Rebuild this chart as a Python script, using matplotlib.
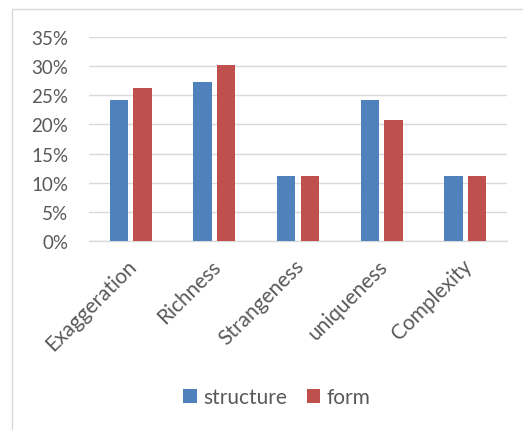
import matplotlib
matplotlib.use("Agg")
import matplotlib.pyplot as plt
from matplotlib.patches import Rectangle
from matplotlib.ticker import PercentFormatter
from matplotlib.transforms import ScaledTranslation
import numpy as np

categories = ["Exaggeration", "Richness", "Strangeness", "uniqueness", "Complexity"]
structure = [24.2, 27.2, 11.2, 24.2, 11.2]
form = [26.2, 30.2, 11.2, 20.7, 11.2]
series_names = ["structure", "form"]
yticks = [0, 5, 10, 15, 20, 25, 30, 35]

blue = "#4F81BD"
red = "#C0504D"
text_col = "#595959"
grid_col = "#D9D9D9"

plt.rcParams["font.family"] = ["Lato", "DejaVu Sans"]

W, H = 523, 431
fig = plt.figure(figsize=(W / 100, H / 100), dpi=100)

# chart-area frame
fig.patches.append(Rectangle((12 / W, -0.1), 1.2, (H - 10) / H + 0.1,
                             transform=fig.transFigure, fill=False,
                             edgecolor="#D9D9D9", linewidth=1.0))

ax = fig.add_axes([89 / W, 1 - 242 / H, (507 - 89) / W, (242 - 38) / H])
x = np.arange(len(categories))
bw = 0.22
off = 0.142
ax.bar(x - off, structure, bw, color=blue, label=series_names[0], zorder=3)
ax.bar(x + off, form, bw, color=red, label=series_names[1], zorder=3)

ax.set_xlim(-0.5, len(categories) - 0.5)
ax.set_ylim(0, 35)
ax.set_yticks(yticks)
ax.yaxis.set_major_formatter(PercentFormatter(decimals=0))
ax.grid(axis="y", color=grid_col, linewidth=1.0, zorder=0)
for s in ["top", "right", "left"]:
    ax.spines[s].set_visible(False)
ax.spines["bottom"].set_color(grid_col)
ax.spines["bottom"].set_linewidth(1.0)
ax.tick_params(axis="y", length=0, pad=15, labelsize=13.5, labelcolor=text_col)
ax.tick_params(axis="x", length=0, pad=9, labelsize=15, labelcolor=text_col)
ax.set_xticks(x)
ax.set_xticklabels(categories, rotation=45, ha="right", rotation_mode="anchor")
shift = ScaledTranslation(-4 / 100, -2 / 100, fig.dpi_scale_trans)
for lbl in ax.get_xticklabels():
    lbl.set_transform(lbl.get_transform() + shift)

fig.legend(loc="center", bbox_to_anchor=(277 / W, 1 - 398 / H), ncol=2,
           frameon=False, fontsize=15, labelcolor=text_col,
           handlelength=0.65, handleheight=0.65, handletextpad=0.3,
           columnspacing=0.95)

fig.savefig("out.png", dpi=100)
